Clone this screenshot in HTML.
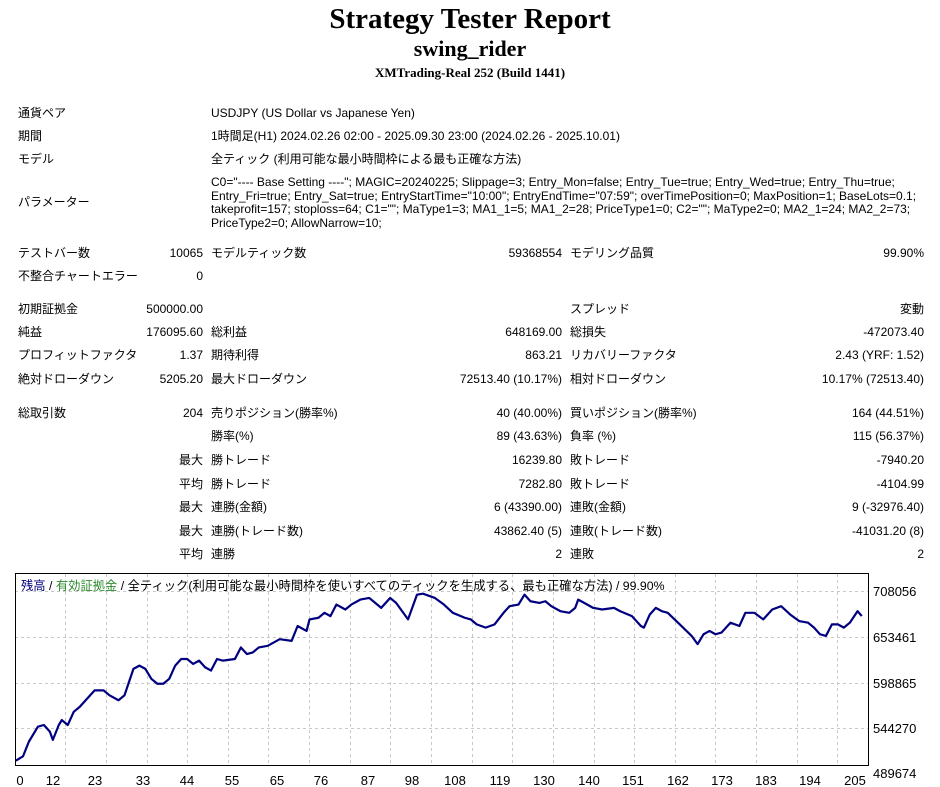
<!DOCTYPE html>
<html><head><meta charset="utf-8"><style>
body{margin:0;width:940px;height:787px;background:#fff;position:relative;overflow:hidden;font-family:"Liberation Sans","Noto Sans CJK JP",sans-serif;font-size:12px;color:#000}
.t{position:absolute;white-space:nowrap;line-height:14px}
.r{text-align:right}
h1,h2,h3{margin:0;position:absolute;left:0;width:940px;text-align:center;font-family:"Liberation Serif","Noto Serif CJK SC",serif;font-weight:bold}
</style></head><body>
<h1 style="top:3px;font-size:29px">Strategy Tester Report</h1>
<h2 style="top:36px;font-size:22px">swing_rider</h2>
<h3 style="top:65px;font-size:13px">XMTrading-Real 252 (Build 1441)</h3>

<div class="t" style="left:18px;top:106px">通貨ペア</div><div class="t" style="left:211px;top:106px">USDJPY (US Dollar vs Japanese Yen)</div>
<div class="t" style="left:18px;top:129px">期間</div><div class="t" style="left:211px;top:129px">1時間足(H1) 2024.02.26 02:00 - 2025.09.30 23:00 (2024.02.26 - 2025.10.01)</div>
<div class="t" style="left:18px;top:152px">モデル</div><div class="t" style="left:211px;top:152px">全ティック (利用可能な最小時間枠による最も正確な方法)</div>
<div class="t" style="left:18px;top:195px">パラメーター</div>
<div class="t" style="left:211px;top:176px;line-height:13.5px">C0="---- Base Setting ----"; MAGIC=20240225; Slippage=3; Entry_Mon=false; Entry_Tue=true; Entry_Wed=true; Entry_Thu=true;<br>Entry_Fri=true; Entry_Sat=true; EntryStartTime="10:00"; EntryEndTime="07:59"; overTimePosition=0; MaxPosition=1; BaseLots=0.1;<br>takeprofit=157; stoploss=64; C1=""; MaType1=3; MA1_1=5; MA1_2=28; PriceType1=0; C2=""; MaType2=0; MA2_1=24; MA2_2=73;<br>PriceType2=0; AllowNarrow=10;</div>

<div class="t" style="left:18px;top:246px">テストバー数</div><div class="t r" style="left:100px;width:103px;top:246px">10065</div>
<div class="t" style="left:211px;top:246px">モデルティック数</div><div class="t r" style="left:400px;width:162px;top:246px">59368554</div>
<div class="t" style="left:570px;top:246px">モデリング品質</div><div class="t r" style="left:760px;width:164px;top:246px">99.90%</div>
<div class="t" style="left:18px;top:269px">不整合チャートエラー</div><div class="t r" style="left:100px;width:103px;top:269px">0</div>

<div class="t" style="left:18px;top:302px">初期証拠金</div><div class="t r" style="left:100px;width:103px;top:302px">500000.00</div>
<div class="t" style="left:570px;top:302px">スプレッド</div><div class="t r" style="left:760px;width:164px;top:302px">変動</div>
<div class="t" style="left:18px;top:325px">純益</div><div class="t r" style="left:100px;width:103px;top:325px">176095.60</div>
<div class="t" style="left:211px;top:325px">総利益</div><div class="t r" style="left:400px;width:162px;top:325px">648169.00</div>
<div class="t" style="left:570px;top:325px">総損失</div><div class="t r" style="left:760px;width:164px;top:325px">-472073.40</div>
<div class="t" style="left:18px;top:348px">プロフィットファクタ</div><div class="t r" style="left:100px;width:103px;top:348px">1.37</div>
<div class="t" style="left:211px;top:348px">期待利得</div><div class="t r" style="left:400px;width:162px;top:348px">863.21</div>
<div class="t" style="left:570px;top:348px">リカバリーファクタ</div><div class="t r" style="left:760px;width:164px;top:348px">2.43 (YRF: 1.52)</div>
<div class="t" style="left:18px;top:372px">絶対ドローダウン</div><div class="t r" style="left:100px;width:103px;top:372px">5205.20</div>
<div class="t" style="left:211px;top:372px">最大ドローダウン</div><div class="t r" style="left:400px;width:162px;top:372px">72513.40 (10.17%)</div>
<div class="t" style="left:570px;top:372px">相対ドローダウン</div><div class="t r" style="left:760px;width:164px;top:372px">10.17% (72513.40)</div>

<div class="t" style="left:18px;top:406px">総取引数</div><div class="t r" style="left:100px;width:103px;top:406px">204</div>
<div class="t" style="left:211px;top:406px">売りポジション(勝率%)</div><div class="t r" style="left:400px;width:162px;top:406px">40 (40.00%)</div>
<div class="t" style="left:570px;top:406px">買いポジション(勝率%)</div><div class="t r" style="left:760px;width:164px;top:406px">164 (44.51%)</div>
<div class="t" style="left:211px;top:429px">勝率(%)</div><div class="t r" style="left:400px;width:162px;top:429px">89 (43.63%)</div>
<div class="t" style="left:570px;top:429px">負率 (%)</div><div class="t r" style="left:760px;width:164px;top:429px">115 (56.37%)</div>
<div class="t r" style="left:100px;width:103px;top:453px">最大</div><div class="t" style="left:211px;top:453px">勝トレード</div><div class="t r" style="left:400px;width:162px;top:453px">16239.80</div>
<div class="t" style="left:570px;top:453px">敗トレード</div><div class="t r" style="left:760px;width:164px;top:453px">-7940.20</div>
<div class="t r" style="left:100px;width:103px;top:477px">平均</div><div class="t" style="left:211px;top:477px">勝トレード</div><div class="t r" style="left:400px;width:162px;top:477px">7282.80</div>
<div class="t" style="left:570px;top:477px">敗トレード</div><div class="t r" style="left:760px;width:164px;top:477px">-4104.99</div>
<div class="t r" style="left:100px;width:103px;top:500px">最大</div><div class="t" style="left:211px;top:500px">連勝(金額)</div><div class="t r" style="left:400px;width:162px;top:500px">6 (43390.00)</div>
<div class="t" style="left:570px;top:500px">連敗(金額)</div><div class="t r" style="left:760px;width:164px;top:500px">9 (-32976.40)</div>
<div class="t r" style="left:100px;width:103px;top:524px">最大</div><div class="t" style="left:211px;top:524px">連勝(トレード数)</div><div class="t r" style="left:400px;width:162px;top:524px">43862.40 (5)</div>
<div class="t" style="left:570px;top:524px">連敗(トレード数)</div><div class="t r" style="left:760px;width:164px;top:524px">-41031.20 (8)</div>
<div class="t r" style="left:100px;width:103px;top:547px">平均</div><div class="t" style="left:211px;top:547px">連勝</div><div class="t r" style="left:400px;width:162px;top:547px">2</div>
<div class="t" style="left:570px;top:547px">連敗</div><div class="t r" style="left:760px;width:164px;top:547px">2</div>

<svg style="position:absolute;left:0;top:0" width="940" height="787">
<g stroke="#c8c8c8" stroke-dasharray="3,3" stroke-width="1">
<line x1="15" x2="868" y1="591.5" y2="591.5"/><line x1="15" x2="868" y1="637.5" y2="637.5"/><line x1="15" x2="868" y1="683.5" y2="683.5"/><line x1="15" x2="868" y1="728.5" y2="728.5"/>
<line x1="65.5" x2="65.5" y1="574" y2="765"/><line x1="106.5" x2="106.5" y1="574" y2="765"/><line x1="147.5" x2="147.5" y1="574" y2="765"/><line x1="187.5" x2="187.5" y1="574" y2="765"/><line x1="228.5" x2="228.5" y1="574" y2="765"/><line x1="268.5" x2="268.5" y1="574" y2="765"/><line x1="309.5" x2="309.5" y1="574" y2="765"/><line x1="350.5" x2="350.5" y1="574" y2="765"/><line x1="390.5" x2="390.5" y1="574" y2="765"/><line x1="431.5" x2="431.5" y1="574" y2="765"/><line x1="472.5" x2="472.5" y1="574" y2="765"/><line x1="512.5" x2="512.5" y1="574" y2="765"/><line x1="553.5" x2="553.5" y1="574" y2="765"/><line x1="594.5" x2="594.5" y1="574" y2="765"/><line x1="634.5" x2="634.5" y1="574" y2="765"/><line x1="675.5" x2="675.5" y1="574" y2="765"/><line x1="715.5" x2="715.5" y1="574" y2="765"/><line x1="756.5" x2="756.5" y1="574" y2="765"/><line x1="797.5" x2="797.5" y1="574" y2="765"/><line x1="837.5" x2="837.5" y1="574" y2="765"/>
</g>
<rect x="15.5" y="573.5" width="853" height="192" fill="none" stroke="#000"/>
<g transform="translate(20 593) scale(0.597 0.33) translate(-35 -70)">
<polyline fill="none" stroke="#000080" stroke-width="2.2" vector-effect="non-scaling-stroke" stroke-linejoin="round" points="28,578 40,565 50,520 65,475 75,470 85,490 90,515 100,470 105,455 115,470 125,430 135,415 145,395 160,365 175,365 185,380 200,395 210,380 225,300 235,290 245,300 255,330 265,345 275,345 285,330 295,290 305,270 315,270 325,285 335,275 345,295 355,305 365,270 375,275 395,270 405,235 415,255 425,250 435,235 450,230 470,210 490,215 500,170 515,185 520,150 535,145 545,130 555,140 565,105 580,120 590,105 605,90 620,85 630,100 640,115 655,85 665,100 685,150 700,75 710,72 730,85 745,105 760,130 780,145 790,150 800,165 815,175 830,165 845,130 855,110 870,105 880,75 890,95 905,100 915,95 925,110 940,125 955,130 965,115 970,90 980,100 995,115 1010,120 1030,115 1040,125 1060,140 1075,170 1080,175 1090,135 1100,115 1110,125 1120,130 1140,165 1160,200 1170,225 1180,195 1190,185 1200,195 1210,190 1225,160 1240,170 1250,130 1265,130 1280,150 1295,120 1310,110 1325,135 1340,155 1355,160 1365,175 1375,195 1385,200 1395,165 1405,165 1415,175 1425,160 1438,125 1445,140"/>
</g>
<g font-family="Liberation Sans, sans-serif" font-size="13" fill="#000">
<text x="873" y="596">708056</text><text x="873" y="642">653461</text><text x="873" y="688">598865</text><text x="873" y="733">544270</text><text x="873" y="778">489674</text>
<g text-anchor="middle"><text x="20" y="785">0</text><text x="53" y="785">12</text><text x="95" y="785">23</text><text x="143" y="785">33</text><text x="187" y="785">44</text><text x="232" y="785">55</text><text x="277" y="785">65</text><text x="321" y="785">76</text><text x="368" y="785">87</text><text x="412" y="785">98</text><text x="455" y="785">108</text><text x="500" y="785">119</text><text x="544" y="785">130</text><text x="589" y="785">140</text><text x="633" y="785">151</text><text x="678" y="785">162</text><text x="722" y="785">173</text><text x="766" y="785">183</text><text x="810" y="785">194</text><text x="855" y="785">205</text></g>
</g>
<text x="21" y="590" font-family="Liberation Sans, Noto Sans CJK JP, sans-serif" font-size="12.3"><tspan fill="#000080">残高</tspan><tspan fill="#000"> / </tspan><tspan fill="#2e8b2e">有効証拠金</tspan><tspan fill="#000"> / 全ティック(利用可能な最小時間枠を使いすべてのティックを生成する、最も正確な方法) / 99.90%</tspan></text>
</svg>
</body></html>
